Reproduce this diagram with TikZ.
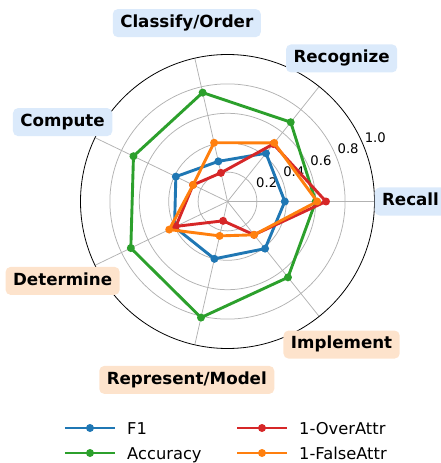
\documentclass[tikz,border=0pt]{standalone}
\usepackage{fontspec}
\setmainfont{DejaVu Sans}
\usetikzlibrary{calc}

\definecolor{tabblue}{HTML}{1F77B4}
\definecolor{taborange}{HTML}{FF7F0E}
\definecolor{tabgreen}{HTML}{2CA02C}
\definecolor{tabred}{HTML}{D62728}
\definecolor{boxblue}{RGB}{219,234,251}
\definecolor{boxorange}{RGB}{253,227,204}

\begin{document}
\begin{tikzpicture}[x=1pt, y=1pt, line join=round]
		\tikzstyle{gridline}=[draw=black!30, line width=0.75pt]
		\tikzstyle{series}=[line width=2.9pt, draw=#1]
		\tikzstyle{skill}=[rounded corners=5pt, fill=#1, inner xsep=7.5pt, minimum height=28pt, text height=12.5pt, text depth=3.9pt, font=\fontsize{16.7}{20}\selectfont\bfseries]
		\tikzstyle{ticklabel}=[font=\fontsize{13.2}{16}\selectfont, inner sep=0pt]
		\tikzstyle{keytext}=[font=\fontsize{16.3}{20}\selectfont, anchor=base west, inner sep=0pt]
		\def\R{147}
		\useasboundingbox (-227.5,-261.5) rectangle (212.5,201.5);
		% grid and spokes
		\coordinate (O) at (0,0);
		\foreach \r in {0.2,0.4,0.6,0.8}
			\draw[gridline] (O) circle (\r*\R);
		\foreach \i in {0,...,6} {
			\coordinate (rim\i) at (\i*360/7:\R);
			\draw[gridline] (O) -- (rim\i);
		}
		\draw[black, line width=0.8pt] (O) circle (\R);
		\foreach \r/\n in {0.2/a,0.4/b,0.6/c,0.8/d,1.0/e}
			\node[ticklabel] (tick\n) at ($(22.5:\r*\R)+(12,7.5)$) {\r};
		% category labels
		\foreach \i/\txt/\col in {0/Recall/boxblue, 1/Recognize/boxblue, 2/{Classify/Order}/boxblue, 3/Compute/boxblue, 4/Determine/boxorange, 5/{Represent/Model}/boxorange, 6/Implement/boxorange}
			\node[skill=\col] (cat\i) at (\i*360/7:183) {\txt};
		% data
		\foreach \nm/\col/\vals in {f/tabblue/{0.39,0.42,0.28,0.39,0.40,0.40,0.41}, acc/tabgreen/{0.60,0.69,0.76,0.71,0.73,0.81,0.66}, over/tabred/{0.67,0.50,0.20,0.26,0.39,0.135,0.29}, false/taborange/{0.61,0.51,0.41,0.26,0.44,0.24,0.29}} {
			\foreach \v [count=\i from 0] in \vals
				\coordinate (\nm-\i) at (\i*360/7:\v*\R);
			\draw[series=\col] (\nm-0) -- (\nm-1) -- (\nm-2) -- (\nm-3) -- (\nm-4) -- (\nm-5) -- (\nm-6) -- cycle;
			\foreach \i in {0,...,6}
				\fill[\col] (\nm-\i) circle (4);
		}
		% legend
		\foreach \nm/\col/\x/\y/\txt in {kf/tabblue/-162.5/-226.5/F1, kacc/tabgreen/-162.5/-251.5/Accuracy, kover/tabred/9.5/-226.5/1-OverAttr, kfalse/taborange/9.5/-251.5/1-FalseAttr} {
			\coordinate (\nm-a) at (\x,\y);
			\coordinate (\nm-b) at (\x+50,\y);
			\draw[series=\col] (\nm-a) -- (\nm-b);
			\fill[\col] ($(\nm-a)!0.5!(\nm-b)$) circle (4);
			\node[keytext] (\nm) at (\x+62,\y-6) {\txt};
		}
\end{tikzpicture}
\end{document}
